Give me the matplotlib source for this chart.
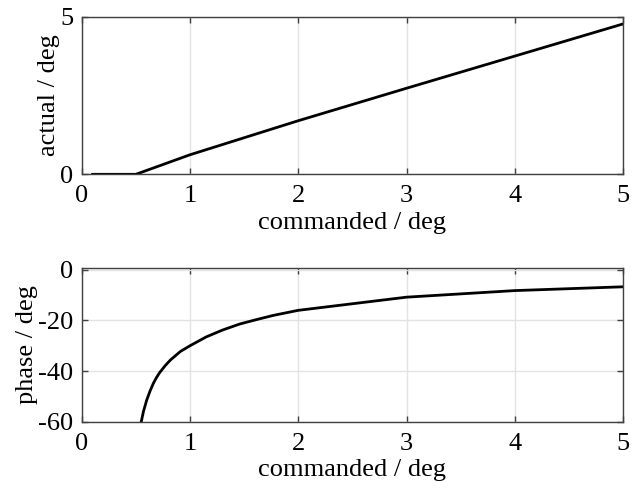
import matplotlib
matplotlib.use("Agg")
import matplotlib.pyplot as plt

# values
cmd_amp = [0.1, 0.5, 1.0, 2.0, 3.0, 4.0, 5.0]
actual_amp = [0.0, 0.0, 0.62, 1.70, 2.73, 3.75, 4.77]

cmd_phase = [0.55, 0.57, 0.60, 0.63, 0.66, 0.69, 0.72, 0.77, 0.82, 0.91, 1.0, 1.15, 1.3,
             1.46, 1.62, 1.77, 2.0, 3.0, 4.0, 5.0]
phase = [-60.0, -56.0, -51.5, -48.0, -45.0, -42.6, -40.6, -37.9, -35.6, -32.3, -30.0,
         -26.5, -23.8, -21.4, -19.6, -18.0, -16.0, -10.8, -8.2, -6.7]

x_ticks = [0, 1, 2, 3, 4, 5]
amp_ticks = [0, 5]
phase_ticks = [-60, -40, -20, 0]

plt.rcParams['font.family'] = ['Liberation Serif', 'DejaVu Serif']
plt.rcParams['font.size'] = 19
plt.rcParams['axes.unicode_minus'] = False

spine_col = '#404040'
grid_col = '#e3e3e3'

fig = plt.figure(figsize=(6.36, 4.88), dpi=100)
ax1 = fig.add_axes([0.1285, 0.6428, 0.9796 - 0.1285, 0.9658 - 0.6428])
ax2 = fig.add_axes([0.1285, 0.1359, 0.9796 - 0.1285, 0.4512 - 0.1359])


def style(ax):
    for s in ax.spines.values():
        s.set_color(spine_col)
        s.set_linewidth(1.0)
    ax.tick_params(direction='in', length=4, width=1.0, color=spine_col,
                   top=True, right=True, labelcolor='black')
    ax.tick_params(axis='x', pad=8)
    ax.tick_params(axis='y', pad=6)
    ax.grid(True, color=grid_col, linewidth=1.0)
    ax.set_axisbelow(True)


ax1.plot(cmd_amp, actual_amp, color='black', linewidth=2.0)
ax1.set_xlim(0, 5)
ax1.set_ylim(0, 5)
ax1.set_xticks(x_ticks)
ax1.set_yticks(amp_ticks)
ax1.set_xlabel('commanded / deg', labelpad=3)
ax1.set_ylabel('actual / deg', labelpad=0)
style(ax1)

ax2.plot(cmd_phase, phase, color='black', linewidth=2.0)
ax2.set_xlim(0, 5)
ax2.set_ylim(-60, 0.8)
ax2.set_xticks(x_ticks)
ax2.set_yticks(phase_ticks)
ax2.set_xlabel('commanded / deg', labelpad=3)
ax2.set_ylabel('phase / deg', labelpad=0)
style(ax2)

fig.savefig('out.png', dpi=100)
